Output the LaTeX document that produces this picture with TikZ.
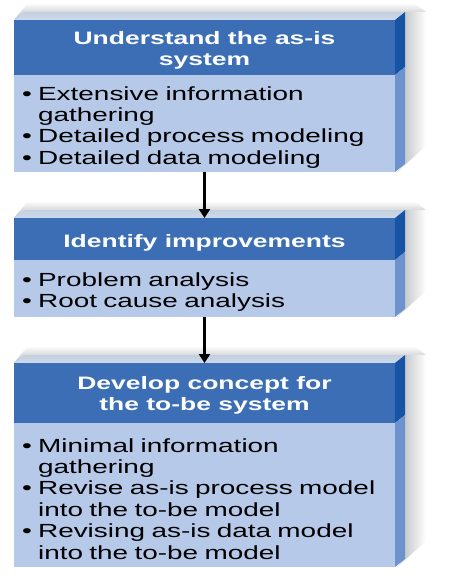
\documentclass[tikz,border=0pt]{standalone}
\usepackage{fontspec}
\setmainfont{Liberation Sans}[FakeStretch=1.47]
\usetikzlibrary{arrows.meta}

\definecolor{headblue}{RGB}{60,110,182}
\definecolor{headside}{RGB}{24,84,166}
\definecolor{bodyblue}{RGB}{182,201,232}
\definecolor{bodyside}{RGB}{108,146,208}
\definecolor{lipblue}{RGB}{204,218,238}
\definecolor{haze}{RGB}{180,182,186}

% bullet and the matching indent of a wrapped line
\newcommand\itemdot{\textbullet\ }
\newcommand\itemgap{\phantom{\textbullet\ }}
% struts that set the first line a little lower in its box
\newcommand\headstrut{\rule{0pt}{18pt}}
\newcommand\bodystrut{\rule{0pt}{21.5pt}}

% 3-D slab behind a box: soft shadow, top face and right side face
% #1 = top of front face, #2 = header/body split, #3 = bottom of front face
\newcommand\slab[3]{%
  \shade[top color=white, bottom color=haze]
    (14,#1) -- (28,{#1-17}) -- (414,{#1-17}) -- (426,{#1-8}) -- (405,{#1-8}) -- cycle;
  \shade[left color=haze, right color=white]
    (405,{#1-8}) -- (426,{#1-8}) -- (426,{#3-26}) -- (397,{#3}) -- (405,{#3-8}) -- cycle;
  \shade[top color=lipblue!70!haze, bottom color=lipblue]
    (14,#1) -- (24,{#1-8}) -- (405,{#1-8}) -- (395,#1) -- cycle;
  \fill[headside] (395,#1) -- (405,{#1-8}) -- (405,{#2-8}) -- (395,#2) -- cycle;
  \fill[bodyside] (395,#2) -- (405,{#2-8}) -- (405,{#3-8}) -- (395,#3) -- cycle;
}

\begin{document}
\begin{tikzpicture}[x=1pt,y=-1pt,
  head/.style={fill=headblue, text=white, minimum width=381pt, inner sep=0pt,
    outer sep=0pt, anchor=north west, align=center,
    font=\fontsize{18}{21}\selectfont\bfseries},
  body/.style={fill=bodyblue, text=black, minimum width=381pt, inner ysep=0pt,
    inner xsep=8pt, text width=365pt, outer sep=0pt, anchor=north west,
    align=left, font=\fontsize{19}{21.4}\selectfont},
  link/.style={line width=2.6pt, -{Triangle[width=11pt,length=9pt]}}
]
\useasboundingbox (0,0) rectangle (448,584);
\fill[white] (0,0) rectangle (448,584);

% stage 1
\slab{20}{75}{172}
\node[head, minimum height=55pt] (h1) at (14,20) {\headstrut Understand the as-is\\system};
\node[body, minimum height=97pt] (b1) at (14,75)
  {\bodystrut\itemdot Extensive information\\
   \itemgap gathering\\
   \itemdot Detailed process modeling\\
   \itemdot Detailed data modeling};

% stage 2
\slab{218}{260}{317}
\node[head, minimum height=42pt] (h2) at (14,218) {\rule{0pt}{20pt}Identify improvements};
\node[body, minimum height=57pt] (b2) at (14,260)
  {\bodystrut\itemdot Problem analysis\\
   \itemdot Root cause analysis};

% stage 3
\slab{363}{423}{567}
\node[head, minimum height=60pt] (h3) at (14,363) {\headstrut Develop concept for\\the to-be system};
\node[body, minimum height=144pt] (b3) at (14,423)
  {\bodystrut\itemdot Minimal information\\
   \itemgap gathering\\
   \itemdot Revise as-is process model\\
   \itemgap into the to-be model\\
   \itemdot Revising as-is data model\\
   \itemgap into the to-be model};

% flow between stages
\draw[link] (b1.south) -- (h2.north);
\draw[link] (b2.south) -- (h3.north);
\end{tikzpicture}
\end{document}
